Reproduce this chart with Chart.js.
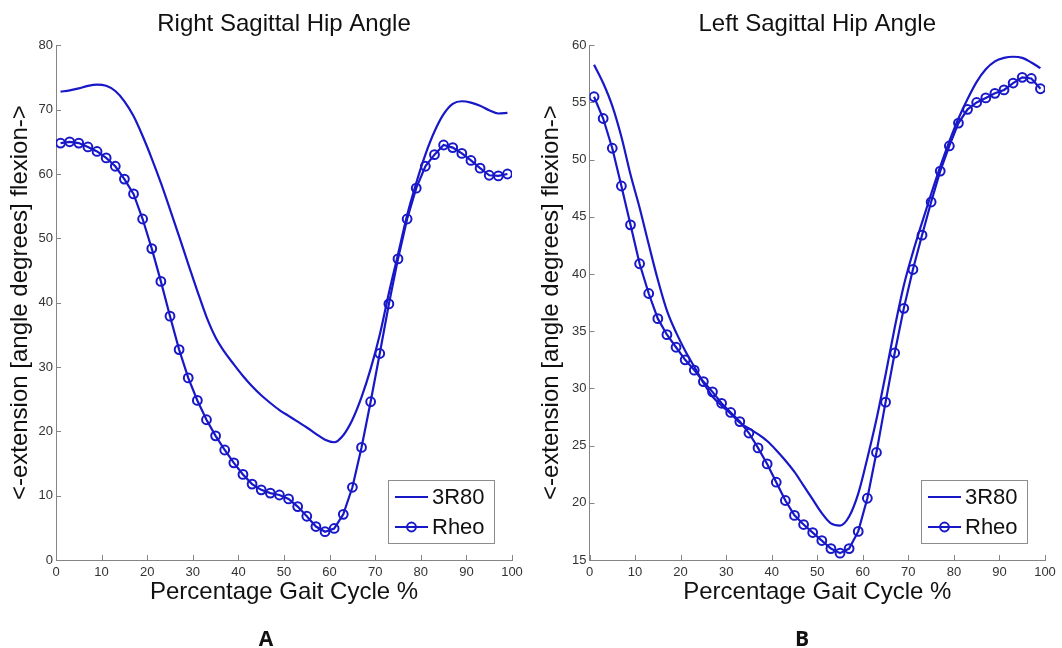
<!DOCTYPE html>
<html>
<head>
<meta charset="utf-8">
<script src="https://cdn.jsdelivr.net/npm/chart.js@4.4.1/dist/chart.umd.min.js"></script>
<style>
  body { margin: 0; background: #fff; }
  .panel { position: absolute; top: 0; width: 531px; height: 648px; }
  .letter {
    position: absolute; top: 624px; width: 40px; height: 24px; line-height: 24px;
    text-align: center; font: bold 21px "Open Sans", "Liberation Sans", sans-serif; color: #111;
  }
</style>
</head>
<body>
<div class="panel" style="left:0"><canvas id="chartA" width="531" height="648"></canvas></div>
<div class="panel" style="left:531px"><canvas id="chartB" width="531" height="648"></canvas></div>
<div class="letter" style="left:246px">A</div>
<div class="letter" style="left:782px">B</div>
<script>
// gait cycle samples (%), every second frame
const gaitPct = [1, 3, 5, 7, 9, 11, 13, 15, 17, 19, 21, 23, 25, 27, 29, 31, 33, 35, 37, 39,
  41, 43, 45, 47, 49, 51, 53, 55, 57, 59, 61, 63, 65, 67, 69, 71, 73, 75, 77, 79,
  81, 83, 85, 87, 89, 91, 93, 95, 97, 99];

// right hip (panel A)
const rightHip3R80 = [72.8, 73.0, 73.3, 73.7, 73.9, 73.7, 72.9, 71.3, 69.0, 65.9,
  62.4, 58.6, 54.5, 50.3, 46.0, 41.8, 37.8, 34.6, 32.3, 30.4,
  28.6, 27.0, 25.6, 24.4, 23.3, 22.4, 21.5, 20.6, 19.6, 18.7,
  18.3, 19.4, 21.8, 25.3, 29.7, 35.0, 41.5, 47.5, 53.6, 58.6,
  63.0, 66.6, 69.3, 70.9, 71.3, 71.1, 70.6, 69.9, 69.4, 69.5];
const rightHipRheo = [64.8, 65.0, 64.8, 64.2, 63.5, 62.5, 61.2, 59.2, 56.9, 53.0,
  48.4, 43.3, 37.9, 32.7, 28.3, 24.8, 21.8, 19.3, 17.1, 15.1,
  13.3, 11.8, 10.9, 10.4, 10.1, 9.5, 8.3, 6.8, 5.2, 4.4,
  4.9, 7.1, 11.3, 17.5, 24.6, 32.1, 39.8, 46.8, 53.0, 57.8,
  61.2, 63.0, 64.5, 64.1, 63.2, 62.1, 60.9, 59.8, 59.7, 60.0];

// left hip (panel B)
const leftHip3R80 = [58.3, 56.7, 54.7, 52.0, 48.7, 45.8, 42.6, 39.5, 36.8, 34.9,
  33.3, 31.9, 30.5, 29.3, 28.5, 27.8, 27.0, 26.5, 26.0, 25.4,
  24.6, 23.7, 22.7, 21.5, 20.3, 19.1, 18.2, 18.0, 18.8, 20.8,
  23.9, 27.3, 31.2, 35.3, 39.0, 41.9, 44.5, 47.0, 49.4, 51.6,
  53.6, 55.3, 56.8, 57.9, 58.6, 58.9, 59.0, 58.9, 58.5, 58.0];
const leftHipRheo = [55.5, 53.6, 51.0, 47.7, 44.3, 40.9, 38.3, 36.1, 34.7, 33.6,
  32.5, 31.6, 30.6, 29.7, 28.7, 27.9, 27.1, 26.1, 24.8, 23.4,
  21.8, 20.2, 18.9, 18.1, 17.4, 16.7, 16.0, 15.6, 16.0, 17.5,
  20.4, 24.4, 28.8, 33.1, 37.0, 40.4, 43.4, 46.3, 49.0, 51.2,
  53.2, 54.4, 55.0, 55.4, 55.8, 56.1, 56.7, 57.2, 57.1, 56.2];

const xTicks = [0, 100, 10];
const yTicksA = [0, 80, 10];
const yTicksB = [15, 60, 5];
const seriesNames = ['3R80', 'Rheo'];

const BLUE = '#1818c8';
const AXIS = '#858585';
Chart.defaults.font.family = '"Liberation Sans", Arial, sans-serif';

// MATLAB style ticks pointing into the axes
const innerTicks = {
  id: 'innerTicks',
  afterDraw(chart) {
    const { ctx, chartArea } = chart;
    const xs = chart.scales.x;
    const ys = chart.scales.y;
    ctx.save();
    ctx.strokeStyle = AXIS;
    ctx.lineWidth = 1;
    ctx.beginPath();
    xs.ticks.forEach((t) => {
      const px = Math.round(xs.getPixelForValue(t.value)) + 0.5;
      ctx.moveTo(px, chartArea.bottom);
      ctx.lineTo(px, chartArea.bottom - 5);
    });
    ys.ticks.forEach((t) => {
      const py = Math.round(ys.getPixelForValue(t.value)) + 0.5;
      ctx.moveTo(chartArea.left, py);
      ctx.lineTo(chartArea.left + 5, py);
    });
    ctx.stroke();
    ctx.restore();
  },
};

// boxed legend in the lower right corner of the axes
const legendBox = {
  id: 'legendBox',
  afterDraw(chart) {
    const { ctx, chartArea } = chart;
    const w = 106;
    const h = 63;
    const x = chartArea.right - 18 - w;
    const y = chartArea.bottom - 17 - h;
    ctx.save();
    ctx.fillStyle = '#fff';
    ctx.fillRect(x, y, w, h);
    ctx.strokeStyle = '#8c8c8c';
    ctx.lineWidth = 1;
    ctx.strokeRect(x + 0.5, y + 0.5, w, h);
    chart.data.datasets.forEach((ds, i) => {
      const cy = y + 17 + i * 30;
      ctx.strokeStyle = ds.borderColor;
      ctx.lineWidth = ds.borderWidth;
      ctx.beginPath();
      ctx.moveTo(x + 7, cy);
      ctx.lineTo(x + 40, cy);
      ctx.stroke();
      if (ds.pointRadius > 0) {
        ctx.lineWidth = ds.pointBorderWidth;
        ctx.beginPath();
        ctx.arc(x + 23.5, cy, ds.pointRadius, 0, Math.PI * 2);
        ctx.stroke();
      }
      ctx.fillStyle = '#111';
      ctx.font = '22px "Liberation Sans", Arial, sans-serif';
      ctx.textBaseline = 'middle';
      ctx.fillText(ds.label, x + 44, cy + 1);
    });
    ctx.restore();
  },
};

const toPoints = (vals) => gaitPct.map((x, i) => ({ x, y: vals[i] }));

const makeChart = (id, title, prosth, rheo, yRange, yWidth, padRight) => {
  return new Chart(document.getElementById(id), {
    type: 'line',
    data: {
      datasets: [
        {
          label: seriesNames[0],
          data: toPoints(prosth),
          borderColor: BLUE,
          borderWidth: 2.2,
          pointRadius: 0,
          pointBorderWidth: 0,
          cubicInterpolationMode: 'monotone',
          fill: false,
        },
        {
          label: seriesNames[1],
          data: toPoints(rheo),
          borderColor: BLUE,
          borderWidth: 2.2,
          tension: 0,
          pointRadius: 4.4,
          pointBorderWidth: 2,
          pointBorderColor: BLUE,
          pointBackgroundColor: 'rgba(0,0,0,0)',
          fill: false,
        },
      ],
    },
    options: {
      responsive: false,
      animation: false,
      devicePixelRatio: 1,
      layout: { padding: { left: 0, top: 0, right: padRight, bottom: 36 } },
      plugins: {
        legend: { display: false },
        tooltip: { enabled: false },
        title: {
          display: true,
          text: title,
          fullSize: false,
          color: '#111',
          font: { size: 24, weight: 'normal' },
          padding: { top: 10, bottom: 6.5 },
        },
      },
      scales: {
        x: {
          type: 'linear',
          min: xTicks[0],
          max: xTicks[1],
          grid: { display: false, drawTicks: false },
          border: { display: true, color: AXIS, width: 1 },
          ticks: {
            stepSize: xTicks[2],
            autoSkip: false,
            maxRotation: 0,
            padding: 5,
            color: '#333',
            font: { size: 13 },
          },
          title: {
            display: true,
            text: 'Percentage Gait Cycle %',
            color: '#111',
            font: { size: 24 },
            padding: { top: 0, bottom: 5 },
          },
          afterFit: (s) => { s.height = 52; },
        },
        y: {
          min: yRange[0],
          max: yRange[1],
          grid: { display: false, drawTicks: false },
          border: { display: true, color: AXIS, width: 1 },
          ticks: {
            stepSize: yRange[2],
            autoSkip: false,
            padding: 3,
            color: '#333',
            font: { size: 13 },
          },
          title: {
            display: true,
            text: '<-extension [angle degrees] flexion->',
            color: '#111',
            font: { size: 24 },
            padding: { top: 6, bottom: 0 },
          },
          afterFit: (s) => { s.width = yWidth; },
        },
      },
    },
    plugins: [innerTicks, legendBox],
  });
};

makeChart('chartA', 'Right Sagittal Hip Angle', rightHip3R80, rightHipRheo, yTicksA, 56, 19);
makeChart('chartB', 'Left Sagittal Hip Angle', leftHip3R80, leftHipRheo, yTicksB, 58.5, 17);
</script>
</body>
</html>
